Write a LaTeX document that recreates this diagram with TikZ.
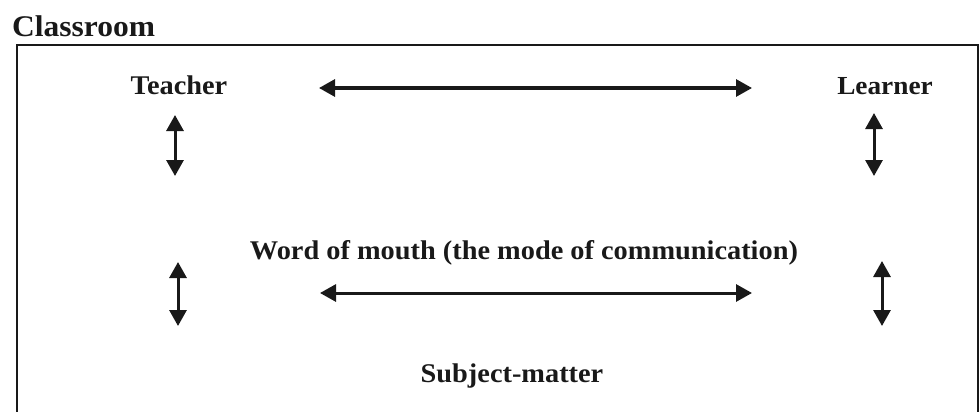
\documentclass[tikz,border=0pt]{standalone}
\usepackage{fontspec}
\setmainfont{Liberation Serif}[FakeStretch=1.05]
\usetikzlibrary{arrows.meta}
\begin{document}
\begin{tikzpicture}[x=1pt,y=-1pt,
  lbl/.style={font=\fontsize{27}{32}\selectfont\bfseries, inner sep=0pt, text=black!90},
  dbl/.style={line width=3pt, draw=black!90, {Triangle[length=16pt,width=17pt]}-{Triangle[length=16pt,width=17pt]}},
  frame/.style={line width=1.3pt, draw=black!90}]
\useasboundingbox (0,0) rectangle (980,412);
\node[lbl, anchor=base west, font=\fontsize{30}{36}\selectfont\bfseries] (room) at (12,37) {Classroom};
\draw[frame] (17,412) -- (17,45) -- (978,45) -- (978,412);
\node[lbl, anchor=base] (teacher) at (179,95) {Teacher};
\node[lbl, anchor=base, font=\fontsize{26}{31}\selectfont\bfseries] (learner) at (885,95) {Learner};
\node[lbl, anchor=base] (word) at (524,259) {Word of mouth (the mode of communication)};
\node[lbl, anchor=base] (subject) at (512,382) {Subject-matter};
\coordinate (tl) at (319,88);
\coordinate (tr) at (752,88);
\coordinate (bl) at (320,293);
\coordinate (br) at (752,293);
\coordinate (t1) at (175,115);
\coordinate (t2) at (175,176);
\coordinate (l1) at (874,113);
\coordinate (l2) at (874,176);
\coordinate (s1) at (178,262);
\coordinate (s2) at (178,326);
\coordinate (r1) at (882,261);
\coordinate (r2) at (882,326);
\draw[dbl] (tl) -- (tr);
\draw[dbl] (bl) -- (br);
\draw[dbl] (t1) -- (t2);
\draw[dbl] (l1) -- (l2);
\draw[dbl] (s1) -- (s2);
\draw[dbl] (r1) -- (r2);
\end{tikzpicture}
\end{document}
